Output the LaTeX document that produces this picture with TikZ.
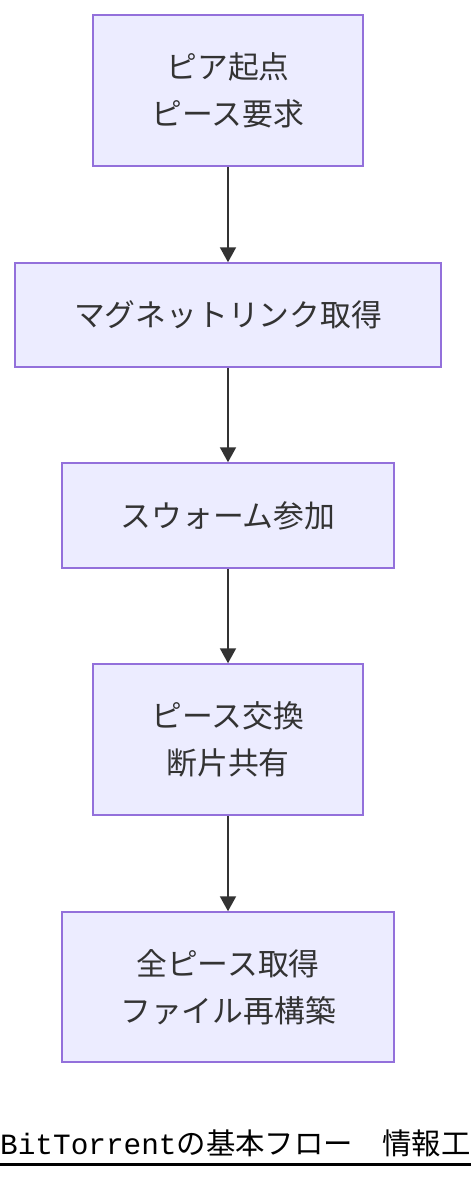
\documentclass[tikz,border=0pt]{standalone}
\usepackage{fontspec}
\usetikzlibrary{arrows.meta,positioning}
\newfontfamily\cjk{Noto Sans CJK JP}
\newfontfamily\latinmono{Liberation Mono}
\definecolor{boxfill}{HTML}{ECECFF}
\definecolor{boxline}{HTML}{9370DB}
\definecolor{ink}{HTML}{333333}
\tikzset{
	box/.style={draw=boxline,fill=boxfill,line width=1.5pt,rectangle,align=center,
		text=ink,inner sep=0pt,font=\cjk\fontsize{30.8}{47}\selectfont},
	flow/.style={draw=ink,line width=2pt,-{Triangle[length=15pt,width=16pt]}},
	every new ->/.style={shorten >=1pt}
}

\begin{document}
\begin{tikzpicture}[x=1pt,y=-1pt]
            \useasboundingbox (0,0) rectangle (472,1180);
            \node[box,minimum width=270pt,minimum height=151pt] (peer) at (228,90.5) {ピア起点\\ピース要求};
            \node[box,minimum width=426pt,minimum height=104pt] (magnet) at (228,315) {マグネットリンク取得};
            \node[box,minimum width=332pt,minimum height=105pt] (swarm) at (228,515.5) {スウォーム参加};
            \node[box,minimum width=270pt,minimum height=151pt] (trade) at (228,739.5) {ピース交換\\断片共有};
            \node[box,minimum width=332pt,minimum height=150pt] (rebuild) at (228,987) {全ピース取得\\ファイル再構築};
            \draw[flow] (peer) -- (magnet);
            \draw[flow] (magnet) -- (swarm);
            \draw[flow] (swarm) -- (trade);
            \draw[flow] (trade) -- (rebuild);
            % caption along the bottom edge
            \node[anchor=base west,inner sep=0pt] (title) at (0,1154)
                {\latinmono\fontsize{29.4}{30}\selectfont BitTorrent\cjk\fontsize{29.4}{30}\selectfont の基本フロー　情報工};
            \draw[line width=2.5pt] ([yshift=-10.5pt]title.base west) -- ([yshift=-10.5pt]title.base east);
        \end{tikzpicture}
\end{document}
